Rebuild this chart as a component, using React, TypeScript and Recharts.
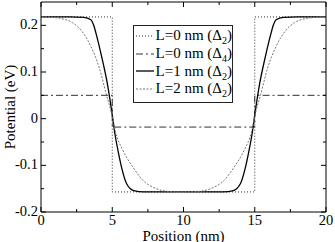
import { LineChart, Line, XAxis, YAxis, Legend } from "recharts"

const FONT = "Liberation Serif, Times New Roman, serif"

// axis ticks (majors get labels)
const xTicks = [0, 2.5, 5, 7.5, 10, 12.5, 15, 17.5, 20]
const yTicks = [-0.2, -0.15, -0.1, -0.05, 0, 0.05, 0.1, 0.15, 0.2]

// abrupt interfaces (L = 0 nm)
const stepX = [0, 5, 5, 15, 15, 20]
const d2Step = [0.218, 0.218, -0.157, -0.157, 0.218, 0.218]
const d4Step = [0.05, 0.05, -0.018, -0.018, 0.05, 0.05]

// L = 1 nm (Δ2)
const l1X = [0, 2, 3, 3.5, 3.7, 3.85, 4.3, 4.65, 5, 5.2, 5.4, 5.65, 6, 6.5, 7.2, 10, 12.8, 13.5, 14, 14.35, 14.6, 14.8, 15, 15.35, 15.7, 16.15, 16.3, 16.5, 17, 18, 20]
const l1Y = [0.218, 0.218, 0.217, 0.212, 0.2, 0.184, 0.127, 0.076, 0.008, -0.035, -0.068, -0.104, -0.139, -0.154, -0.157, -0.157, -0.157, -0.154, -0.139, -0.104, -0.068, -0.035, 0.008, 0.076, 0.127, 0.184, 0.2, 0.212, 0.217, 0.218, 0.218]

// L = 2 nm (Δ2)
const l2X = [0, 0.8, 1.3, 2.2, 2.9, 3.5, 4.1, 4.6, 5, 5.2, 5.75, 6.45, 7.15, 8.1, 9, 10, 11, 11.9, 12.85, 13.55, 14.25, 14.8, 15, 15.4, 15.9, 16.5, 17.1, 17.8, 18.7, 19.2, 20]
const l2Y = [0.218, 0.217, 0.215, 0.206, 0.186, 0.155, 0.108, 0.05, 0.005, -0.025, -0.068, -0.104, -0.132, -0.15, -0.156, -0.157, -0.156, -0.15, -0.132, -0.104, -0.068, -0.025, 0.005, 0.05, 0.108, 0.155, 0.186, 0.206, 0.215, 0.217, 0.218]

const pts = (xs: number[], ys: number[]) => xs.map((x, i) => ({ x, y: ys[i] }))

const series = [
  { key: "d2", label: "L=0 nm (Δ", sub: "2", data: pts(stepX, d2Step), stroke: "#333", dash: "1 2", width: 1, type: "linear" },
  { key: "d4", label: "L=0 nm (Δ", sub: "4", data: pts(stepX, d4Step), stroke: "#333", dash: "7 3 2 3", width: 1, type: "linear" },
  { key: "l1", label: "L=1 nm (Δ", sub: "2", data: pts(l1X, l1Y), stroke: "#000", dash: undefined, width: 1.3, type: "monotone" },
  { key: "l2", label: "L=2 nm (Δ", sub: "2", data: pts(l2X, l2Y), stroke: "#777", dash: "2 1.5", width: 1, type: "monotone" },
]

const isMajorX = (v: number) => v % 5 === 0
const isMajorY = (v: number) => Math.abs(Math.round(v * 10) - v * 10) < 1e-6

const textStyle = { fontFamily: FONT, fontSize: 15, fill: "#000" }
const tickStyle = { fontFamily: FONT, fontSize: 14.5, fill: "#000" }

function Tick(props: any) {
  const { x, y, payload, side } = props
  const v = payload.value
  const major = side === "bottom" || side === "top" ? isMajorX(v) : isMajorY(v)
  const len = major ? 5 : 3
  let x2 = x, y2 = y
  if (side === "bottom") y2 = y - len
  if (side === "top") y2 = y + len
  if (side === "left") x2 = x + len
  if (side === "right") x2 = x - len
  return (
    <g>
      <line x1={x} y1={y} x2={x2} y2={y2} stroke="#000" strokeWidth={1} />
      {major && side === "bottom" && (
        <text x={x} y={y + 12.5} textAnchor="middle" style={tickStyle}>{v}</text>
      )}
      {major && side === "left" && (
        <text x={x - 3} y={y + 4} textAnchor="end" style={tickStyle}>{String(v)}</text>
      )}
    </g>
  )
}

function LegendBox() {
  return (
    <div style={{ border: "1px solid #222", background: "#fff", width: 98, padding: "1px 0 4px 0", fontFamily: FONT, fontSize: 15, color: "#000" }}>
      {series.map((s) => (
        <div key={s.key} style={{ display: "flex", alignItems: "center", height: 17.7, whiteSpace: "nowrap" }}>
          <svg width={20} height={10} style={{ marginLeft: 1, marginRight: 2 }}>
            <line x1={1} y1={5} x2={19} y2={5} stroke={s.stroke} strokeWidth={s.width} strokeDasharray={s.dash} />
          </svg>
          <span>
            {s.label}
            <span style={{ fontSize: 10, position: "relative", top: 4 }}>{s.sub}</span>)
          </span>
        </div>
      ))}
    </div>
  )
}

export default function App() {
  return (
    <div style={{ position: "absolute", left: 0, top: 0, width: 335, height: 242, background: "#fff" }}>
      <LineChart width={335} height={242} margin={{ top: 0, right: 0, bottom: 0, left: 0 }}>
        <XAxis
          dataKey="x" type="number" domain={[0, 20]} ticks={xTicks} interval={0}
          height={30} tickSize={0} tickMargin={0} tickLine={false}
          axisLine={{ stroke: "#000" }} allowDataOverflow
          tick={(p: any) => <Tick {...p} side="bottom" />}
          label={(p: any) => {
            const vb = p.viewBox
            return (
              <text x={vb.x + vb.width / 2} y={240.5} textAnchor="middle" style={textStyle}>
                Position (nm)
              </text>
            )
          }}
        />
        <XAxis
          xAxisId="top" orientation="top" dataKey="x" type="number" domain={[0, 20]} ticks={xTicks} interval={0}
          height={2} tickSize={0} tickMargin={0} tickLine={false}
          axisLine={{ stroke: "#000" }} allowDataOverflow
          tick={(p: any) => <Tick {...p} side="top" />}
        />
        <YAxis
          type="number" domain={[-0.2, 0.25]} ticks={yTicks} interval={0}
          width={41} tickSize={0} tickMargin={0} tickLine={false}
          axisLine={{ stroke: "#000" }} allowDataOverflow
          tick={(p: any) => <Tick {...p} side="left" />}
          label={(p: any) => {
            const vb = p.viewBox
            const cx = 10
            const cy = vb.y + vb.height / 2
            return (
              <text x={cx} y={cy} transform={`rotate(-90, ${cx}, ${cy})`} textAnchor="middle" dominantBaseline="central" style={textStyle}>
                Potential (eV)
              </text>
            )
          }}
        />
        <YAxis
          yAxisId="right" orientation="right" type="number" domain={[-0.2, 0.25]} ticks={yTicks} interval={0}
          width={9} tickSize={0} tickMargin={0} tickLine={false}
          axisLine={{ stroke: "#000" }} allowDataOverflow
          tick={(p: any) => <Tick {...p} side="right" />}
        />
        <Legend
          layout="horizontal" verticalAlign="middle" align="center"
          content={() => <LegendBox />}
          wrapperStyle={{ left: 133, top: 25, width: "auto", bottom: "auto" }}
        />
        {series.map((s) => (
          <Line
            key={s.key} data={s.data} dataKey="y" type={s.type as any}
            stroke={s.stroke} strokeWidth={s.width} strokeDasharray={s.dash}
            dot={false} activeDot={false} isAnimationActive={false}
          />
        ))}
      </LineChart>
    </div>
  )
}
